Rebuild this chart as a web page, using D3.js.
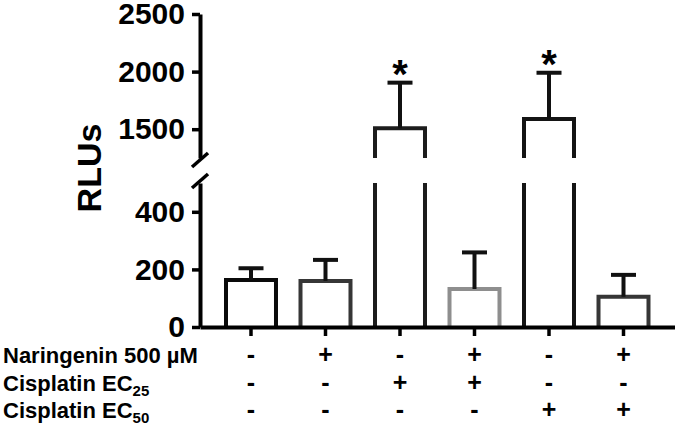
<!DOCTYPE html>
<html lang="en">
  <head>
    <meta charset="utf-8">
    <title>RLUs - D3</title>
    <style>
      body { margin: 0; background: #fff; }
      text { font-family: "Liberation Sans", Arial, sans-serif; font-weight: bold; }
    </style>
  </head>
  <body>
    <div id="dataviz_area"></div>
    <script src="https://d3js.org/d3.v7.min.js"></script>
    <script>
      // data
      var groups = ["g1", "g2", "g3", "g4", "g5", "g6"]
      var means = [163, 160, 1508, 132, 1589, 105]
      var errors = [41, 73, 396, 127, 401, 76]
      var stars = ["", "", "*", "", "*", ""]
      var naringenin = ["-", "+", "-", "+", "-", "+"]
      var ec25 = ["-", "-", "+", "+", "-", "-"]
      var ec50 = ["-", "-", "-", "-", "+", "+"]
      var lowerTicks = [0, 200, 400]
      var upperTicks = [1500, 2000, 2500]
      var barColors = ["#0a0a0a", "#363636", "#1c1c1c", "#8e8e8e", "#141414", "#363636"]

      var width = 678, height = 425

      var svg = d3.select("#dataviz_area")
        .append("svg")
          .attr("width", width)
          .attr("height", height)

      // two y segments around the axis break
      var yLow = d3.scaleLinear().domain([0, 500]).range([327, 183])
      var yUp = d3.scaleLinear().domain([1250, 2500]).range([158, 14])

      var x = d3.scaleBand()
        .domain(groups)
        .range([200, 674.5])
        .paddingInner(0.329)
        .paddingOuter(0.349)

      var bw = x.bandwidth()

      // bars
      groups.forEach(function(g, i) {
        var v = means[i], x0 = x(g), x1 = x0 + bw
        var col = barColors[i]
        if (v <= 500) {
          svg.append("path")
            .attr("d", "M" + x0 + "," + yLow(0) + "V" + yLow(v) + "H" + x1 + "V" + yLow(0))
            .attr("fill", "none").attr("stroke", col).attr("stroke-width", 4)
        } else {
          svg.append("path")
            .attr("d", "M" + x0 + "," + yLow(0) + "V" + yLow(500) + "M" + x1 + "," + yLow(0) + "V" + yLow(500))
            .attr("fill", "none").attr("stroke", col).attr("stroke-width", 4)
          svg.append("path")
            .attr("d", "M" + x0 + "," + yUp(1250) + "V" + yUp(v) + "H" + x1 + "V" + yUp(1250))
            .attr("fill", "none").attr("stroke", col).attr("stroke-width", 4)
        }
      })

      // error bars (upper side only)
      groups.forEach(function(g, i) {
        var v = means[i], e = errors[i]
        var sc = v <= 500 ? yLow : yUp
        var cx = x(g) + bw / 2
        svg.append("line")
          .attr("x1", cx).attr("x2", cx)
          .attr("y1", sc(v)).attr("y2", sc(v + e))
          .attr("stroke", "#111").attr("stroke-width", 4)
        svg.append("line")
          .attr("x1", cx - 12.5).attr("x2", cx + 12.5)
          .attr("y1", sc(v + e)).attr("y2", sc(v + e))
          .attr("stroke", "#111").attr("stroke-width", 4)
        if (stars[i]) {
          svg.append("text")
            .attr("x", cx)
            .attr("y", sc(v + e) + 5)
            .attr("text-anchor", "middle")
            .style("font-size", "40px")
            .text(stars[i])
        }
      })

      // y axes
      var axLow = svg.append("g")
        .attr("transform", "translate(200,0)")
        .call(d3.axisLeft(yLow).tickValues(lowerTicks).tickFormat(d3.format("d"))
          .tickSizeInner(8).tickSizeOuter(0).tickPadding(7))
      var axUp = svg.append("g")
        .attr("transform", "translate(200,0)")
        .call(d3.axisLeft(yUp).tickValues(upperTicks).tickFormat(d3.format("d"))
          .tickSizeInner(8).tickSizeOuter(0).tickPadding(7))

      ;[axLow, axUp].forEach(function(a) {
        a.select(".domain").attr("stroke", "#000").attr("stroke-width", 4)
        a.selectAll(".tick line").attr("stroke", "#000").attr("stroke-width", 3.5)
        a.selectAll(".tick text")
          .attr("fill", "#000")
          .style("font-size", "30px")
          .style("font-family", "'Liberation Sans', Arial, sans-serif")
          .style("font-weight", "bold")
      })

      // break marks
      ;[yUp(1250) + 2, yLow(500) - 2].forEach(function(yy) {
        svg.append("line")
          .attr("x1", 192).attr("y1", yy + 7)
          .attr("x2", 208).attr("y2", yy - 7)
          .attr("stroke", "#000").attr("stroke-width", 3.5)
      })

      // x axis
      var axX = svg.append("g")
        .attr("transform", "translate(0,327)")
        .call(d3.axisBottom(x).tickFormat("").tickSizeInner(9).tickSizeOuter(0))
      axX.select(".domain").attr("stroke", "#000").attr("stroke-width", 4)
      axX.selectAll(".tick line").attr("stroke", "#000").attr("stroke-width", 3.5)

      // y label
      svg.append("text")
        .attr("transform", "translate(101,168) rotate(-90)")
        .attr("text-anchor", "middle")
        .style("font-size", "34px")
        .text("RLUs")

      // treatment table
      var rows = [
        { name: "Naringenin 500 \u00b5M", sub: "", vals: naringenin, y: 363 },
        { name: "Cisplatin EC", sub: "25", vals: ec25, y: 391 },
        { name: "Cisplatin EC", sub: "50", vals: ec50, y: 418 }
      ]

      rows.forEach(function(r) {
        var t = svg.append("text")
          .attr("x", 3)
          .attr("y", r.y)
          .style("font-size", "22px")
          .text(r.name)
        if (r.sub) {
          t.append("tspan")
            .attr("dy", 5)
            .style("font-size", "15px")
            .text(r.sub)
        }
        r.vals.forEach(function(s, i) {
          svg.append("text")
            .attr("x", x(groups[i]) + bw / 2)
            .attr("y", r.y)
            .attr("text-anchor", "middle")
            .style("font-size", "25px")
            .text(s)
        })
      })
    </script>
  </body>
</html>
